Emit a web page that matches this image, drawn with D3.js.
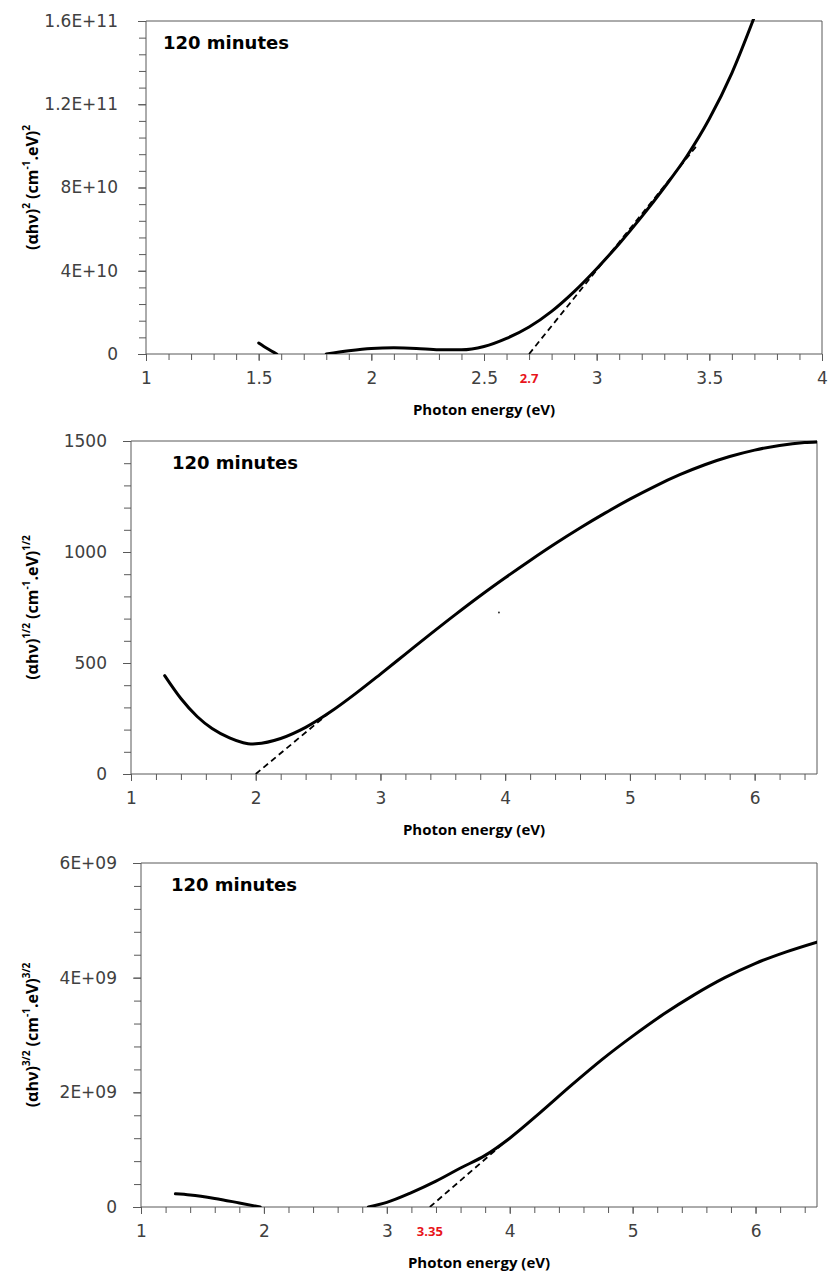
<!DOCTYPE html>
<html>
<head>
  <meta charset="utf-8">
  <title>Tauc plots - 120 minutes</title>
  <script src="https://d3js.org/d3.v7.min.js"></script>
  <style>
    body {
      margin: 0;
      padding: 0;
      background: #ffffff;
    }
    .tick text {
      font-family: "DejaVu Sans", sans-serif;
      font-size: 17px;
      fill: #404040;
    }
    .axis path, .axis line {
      stroke: #595959;
      stroke-width: 1;
    }
    .title {
      font-family: "Open Sans", sans-serif;
      font-weight: bold;
      fill: #000;
    }
  </style>
</head>
<body>
<div id="chart"></div>
<script>
// ---- panel 1 : (ahv)^2 ----
var energy1a = [1.50, 1.54, 1.58];
var value1a  = [5.3e9, 2.5e9, 0];
var energy1b = [1.80, 1.90, 2.00, 2.10, 2.20, 2.30, 2.40, 2.50, 2.60, 2.70, 2.80, 2.90, 3.00, 3.10, 3.20, 3.30, 3.40, 3.50, 3.60, 3.70];
var value1b  = [0, 1.6e9, 2.7e9, 3.0e9, 2.7e9, 2.0e9, 2.0e9, 3.6e9, 7.5e9, 13e9, 20.5e9, 30e9, 41e9, 53e9, 66e9, 80e9, 95e9, 113e9, 135e9, 162e9];
var fitEnergy1 = [2.70, 3.44];
var fitValue1  = [0, 99.5e9];
var xTicks1 = [1, 1.5, 2, 2.5, 3, 3.5, 4];
var xTickLabels1 = ["1", "1.5", "2", "2.5", "3", "3.5", "4"];
var yTicks1 = [0, 4e10, 8e10, 1.2e11, 1.6e11];
var yTickLabels1 = ["0", "4E+10", "8E+10", "1.2E+11", "1.6E+11"];
var gap1 = "2.7";

// ---- panel 2 : (ahv)^1/2 ----
var energy2 = [1.27, 1.40, 1.53, 1.65, 1.79, 1.90, 1.96, 2.00, 2.20, 2.40, 2.60, 2.80, 3.00, 3.20, 3.40, 3.60, 3.80, 4.00, 4.20, 4.40, 4.60, 4.80, 5.00, 5.20, 5.40, 5.60, 5.80, 6.00, 6.20, 6.40, 6.50];
var value2  = [443, 340, 259, 205, 163, 141, 135, 136, 160, 210, 280, 362, 450, 540, 630, 718, 803, 884, 962, 1037, 1108, 1175, 1238, 1296, 1348, 1393, 1430, 1459, 1480, 1493, 1496];
var fitEnergy2 = [2.00, 2.62];
var fitValue2  = [0, 290];
var strayEnergy2 = [3.95];
var strayValue2  = [727];
var xTicks2 = [1, 2, 3, 4, 5, 6];
var xTickLabels2 = ["1", "2", "3", "4", "5", "6"];
var yTicks2 = [0, 500, 1000, 1500];
var yTickLabels2 = ["0", "500", "1000", "1500"];

// ---- panel 3 : (ahv)^3/2 ----
var energy3a = [1.28, 1.40, 1.60, 1.80, 1.97];
var value3a  = [0.23e9, 0.21e9, 0.15e9, 0.07e9, 0];
var energy3b = [2.85, 3.00, 3.20, 3.40, 3.60, 3.80, 4.00, 4.25, 4.50, 4.75, 5.00, 5.25, 5.50, 5.75, 6.00, 6.25, 6.50];
var value3b  = [0, 0.08e9, 0.25e9, 0.45e9, 0.68e9, 0.90e9, 1.20e9, 1.65e9, 2.12e9, 2.57e9, 2.98e9, 3.36e9, 3.70e9, 4.00e9, 4.25e9, 4.45e9, 4.62e9];
var fitEnergy3 = [3.35, 3.97];
var fitValue3  = [0, 1.15e9];
var xTicks3 = [1, 2, 3, 4, 5, 6];
var xTickLabels3 = ["1", "2", "3", "4", "5", "6"];
var yTicks3 = [0, 2e9, 4e9, 6e9];
var yTickLabels3 = ["0", "2E+09", "4E+09", "6E+09"];
var gap3 = "3.35";

var panelText = "120 minutes";
var xTitle = "Photon energy (eV)";

function zip(xs, ys) { return xs.map(function(x, i) { return [x, ys[i]]; }); }
function range(a, b, s) { return d3.range(0, Math.round((b - a) / s) + 1).map(function(i) { return +(a + i * s).toFixed(6); }); }

var svg = d3.select("#chart").append("svg")
    .attr("width", 828)
    .attr("height", 1273);

var panels = [
  { left: 146, right: 822, top: 21, bottom: 354, xDom: [1, 4], yDom: [0, 1.6e11],
    xTicks: xTicks1, xLabels: xTickLabels1, xMinor: range(1, 4, 0.1),
    yTicks: yTicks1, yLabels: yTickLabels1, yMinor: range(0, 1.6e11, 8e9),
    lines: [zip(energy1a, value1a), zip(energy1b, value1b)], fit: zip(fitEnergy1, fitValue1),
    gap: gap1, noteDx: 17, ypad: 20,
    yTitle: [["(αhν)", 0], ["2", 1], [" (cm", 0], ["-1", 1], [".eV)", 0], ["2", 1]] },
  { left: 131, right: 817, top: 441, bottom: 774, xDom: [1, 6.5], yDom: [0, 1500],
    xTicks: xTicks2, xLabels: xTickLabels2, xMinor: range(1, 6.4, 0.2),
    yTicks: yTicks2, yLabels: yTickLabels2, yMinor: range(0, 1500, 100),
    lines: [zip(energy2, value2)], fit: zip(fitEnergy2, fitValue2), stray: zip(strayEnergy2, strayValue2),
    gap: null, noteDx: 41, ypad: 16,
    yTitle: [["(αhν)", 0], ["1/2", 1], [" (cm", 0], ["-1", 1], [".eV)", 0], ["1/2", 1]] },
  { left: 141, right: 817, top: 863, bottom: 1207, xDom: [1, 6.5], yDom: [0, 6e9],
    xTicks: xTicks3, xLabels: xTickLabels3, xMinor: range(1, 6.4, 0.2),
    yTicks: yTicks3, yLabels: yTickLabels3, yMinor: range(0, 6e9, 4e8),
    lines: [zip(energy3a, value3a), zip(energy3b, value3b)], fit: zip(fitEnergy3, fitValue3),
    gap: gap3, noteDx: 30, ypad: 16,
    yTitle: [["(αhν)", 0], ["3/2", 1], [" (cm", 0], ["-1", 1], [".eV)", 0], ["3/2", 1]] }
];

panels.forEach(function(p, k) {
  var x = d3.scaleLinear().domain(p.xDom).range([p.left, p.right]);
  var y = d3.scaleLinear().domain(p.yDom).range([p.bottom, p.top]);
  var g = svg.append("g");

  // clip to plot area
  svg.append("clipPath").attr("id", "clip" + k)
    .append("rect")
      .attr("x", p.left).attr("y", p.top - 2)
      .attr("width", p.right - p.left).attr("height", p.bottom - p.top + 2);

  // border (top and right)
  g.append("path")
    .attr("d", "M" + p.left + "," + p.top + "H" + p.right + "V" + p.bottom)
    .attr("fill", "none").attr("stroke", "#595959").attr("stroke-width", 1);

  // minor ticks
  g.append("g").attr("class", "axis")
    .attr("transform", "translate(0," + p.bottom + ")")
    .call(d3.axisBottom(x).tickValues(p.xMinor).tickSize(6).tickFormat(""))
    .select(".domain").remove();
  g.append("g").attr("class", "axis")
    .attr("transform", "translate(" + p.left + ",0)")
    .call(d3.axisLeft(y).tickValues(p.yMinor).tickSize(7).tickFormat(""))
    .select(".domain").remove();

  // major axes
  g.append("g").attr("class", "axis")
    .attr("transform", "translate(0," + p.bottom + ")")
    .call(d3.axisBottom(x).tickValues(p.xTicks).tickSize(7).tickPadding(11)
      .tickFormat(function(d, i) { return p.xLabels[i]; }))
    .call(function(a) { a.select(".domain").attr("d", "M" + p.left + ",0H" + p.right); });
  g.append("g").attr("class", "axis")
    .attr("transform", "translate(" + p.left + ",0)")
    .call(d3.axisLeft(y).tickValues(p.yTicks).tickSize(8).tickPadding(p.ypad)
      .tickFormat(function(d, i) { return p.yLabels[i]; }))
    .call(function(a) { a.select(".domain").attr("d", "M0," + p.bottom + "V" + p.top); });

  var line = d3.line()
    .x(function(d) { return x(d[0]); })
    .y(function(d) { return y(d[1]); })
    .curve(d3.curveMonotoneX);

  var plot = g.append("g").attr("clip-path", "url(#clip" + k + ")");

  // tangent (dashed)
  plot.append("path")
    .datum(p.fit)
    .attr("d", d3.line().x(function(d) { return x(d[0]); }).y(function(d) { return y(d[1]); }))
    .attr("fill", "none").attr("stroke", "#000").attr("stroke-width", 1.8)
    .attr("stroke-dasharray", "6,4");

  // measured curve
  plot.selectAll(".curve").data(p.lines).enter()
    .append("path")
      .attr("class", "curve")
      .attr("d", line)
      .attr("fill", "none").attr("stroke", "#000").attr("stroke-width", 3)
      .attr("stroke-linecap", "round");

  if (p.stray) {
    plot.selectAll(".stray").data(p.stray).enter()
      .append("circle")
        .attr("cx", function(d) { return x(d[0]); })
        .attr("cy", function(d) { return y(d[1]); })
        .attr("r", 1).attr("fill", "#333");
  }

  // band gap label
  if (p.gap) {
    g.append("text")
      .attr("x", x(+p.gap)).attr("y", p.bottom + 24)
      .attr("text-anchor", "middle").attr("dominant-baseline", "central")
      .style("font-family", "'Open Sans', sans-serif").style("font-weight", "bold")
      .style("font-size", "13px").style("fill", "#e8141b")
      .text(p.gap);
  }

  // panel note
  g.append("text").attr("class", "title")
    .attr("x", p.left + p.noteDx).attr("y", p.top + 21)
    .attr("dominant-baseline", "central")
    .style("font-family", "'DejaVu Sans', sans-serif")
    .style("font-size", "18px")
    .text(panelText);

  // x title
  g.append("text").attr("class", "title")
    .attr("x", (p.left + p.right) / 2).attr("y", p.bottom + 55)
    .attr("text-anchor", "middle").attr("dominant-baseline", "central")
    .style("font-size", "15px")
    .text(xTitle);

  // y title with superscripts
  var yt = g.append("text").attr("class", "title")
    .attr("transform", "translate(32," + ((p.top + p.bottom) / 2) + ") rotate(-90)")
    .attr("text-anchor", "middle").attr("dominant-baseline", "central")
    .style("font-size", "16px");
  var prevSup = 0;
  p.yTitle.forEach(function(part) {
    var t = yt.append("tspan").text(part[0]);
    if (part[1] && !prevSup) t.attr("dy", -6).style("font-size", "10px");
    else if (!part[1] && prevSup) t.attr("dy", 6);
    prevSup = part[1];
  });
});
</script>
</body>
</html>
